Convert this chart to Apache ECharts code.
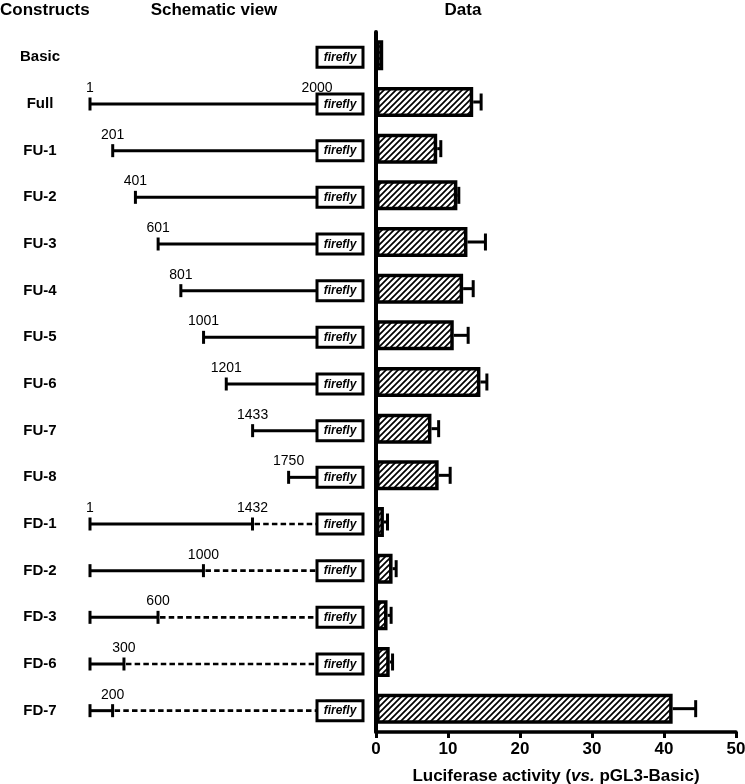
<!DOCTYPE html>
<html>
<head>
<meta charset="utf-8">
<script src="https://cdn.jsdelivr.net/npm/echarts@6/dist/echarts.min.js"></script>
<style>
html,body{margin:0;padding:0;background:#fff;}
#chart{width:745px;height:784px;}
</style>
</head>
<body>
<div id="chart"></div>
<script>
const constructs = ['Basic','Full','FU-1','FU-2','FU-3','FU-4','FU-5','FU-6','FU-7','FU-8','FD-1','FD-2','FD-3','FD-6','FD-7'];
const startPos = [null,1,201,401,601,801,1001,1201,1433,1750,1,1,1,1,1];
const endPos = [null,2000,2000,2000,2000,2000,2000,2000,2000,2000,1432,1000,600,300,200];
const startLabels = ['','1','201','401','601','801','1001','1201','1433','1750','1','','','',''];
const endLabels = ['','2000','','','','','','','','','1432','1000','600','300','200'];
const fullLength = 2000;
const reporter = 'firefly';
const activity = [1.0,13.5,8.5,11.3,12.7,12.1,10.8,14.5,7.7,8.7,1.1,2.3,1.6,1.9,41.2];
const activityErr = [0,1.1,0.5,0.2,2.5,1.4,2.0,0.9,1.0,1.6,0.5,0.5,0.5,0.4,3.2];
const xTickMax = 50;
const xTickStep = 10;

const FONT = '"Liberation Sans", Arial, Helvetica, sans-serif';

// hatch pattern
const pc = document.createElement('canvas');
pc.width = 6; pc.height = 6;
const pctx = pc.getContext('2d');
pctx.fillStyle = '#fff';
pctx.fillRect(0,0,6,6);
pctx.strokeStyle = '#000';
pctx.lineWidth = 1.7;
pctx.beginPath();
pctx.moveTo(0,6); pctx.lineTo(6,0);
pctx.moveTo(-1,1); pctx.lineTo(1,-1);
pctx.moveTo(5,7); pctx.lineTo(7,5);
pctx.stroke();

const chart = echarts.init(document.getElementById('chart'), null, {renderer:'canvas'});

function renderSchematic(params, api) {
  const i = api.value(1);
  const boxPt = api.coord([fullLength, i]);
  const y = boxPt[1];
  const boxX = boxPt[0];
  const children = [];
  const s = startPos[i], e = endPos[i];
  const lineStyle = {stroke:'#000', lineWidth:3};
  if (s != null) {
    const xs = api.coord([s, i])[0];
    const xe = api.coord([e, i])[0];
    children.push({type:'line', shape:{x1:xs, y1:y, x2:xe, y2:y}, style:lineStyle});
    children.push({type:'line', shape:{x1:xs, y1:y-6.5, x2:xs, y2:y+6.5}, style:lineStyle});
    if (e < fullLength) {
      children.push({type:'line', shape:{x1:xe, y1:y-6.5, x2:xe, y2:y+6.5}, style:lineStyle});
      children.push({type:'line', shape:{x1:xe+2, y1:y, x2:boxX, y2:y}, style:{stroke:'#000', lineWidth:2.6, lineDash:[5.5,3.2]}});
    }
    if (startLabels[i]) {
      children.push({type:'text', style:{text:startLabels[i], x:xs, y:y-9, align:'center', verticalAlign:'bottom', font:'14px ' + FONT, fill:'#000'}});
    }
    if (endLabels[i]) {
      children.push({type:'text', style:{text:endLabels[i], x:xe, y:y-9, align:'center', verticalAlign:'bottom', font:'14px ' + FONT, fill:'#000'}});
    }
  }
  children.push({type:'rect', shape:{x:boxX, y:y-10, width:46, height:20}, style:{fill:'#fff', stroke:'#000', lineWidth:3}});
  children.push({type:'text', style:{text:reporter, x:boxX+23, y:y+0.5, align:'center', verticalAlign:'middle', font:'italic bold 12px ' + FONT, fill:'#000'}});
  return {type:'group', children:children};
}

function renderErr(params, api) {
  const i = api.value(1);
  const v = api.value(0);
  const err = api.value(2);
  if (!err) return null;
  const p0 = api.coord([v, i]);
  const p1 = api.coord([v + err, i]);
  return {type:'group', children:[
    {type:'line', shape:{x1:p0[0], y1:p0[1], x2:p1[0], y2:p1[1]}, style:{stroke:'#000', lineWidth:3}},
    {type:'line', shape:{x1:p1[0], y1:p1[1]-8.5, x2:p1[0], y2:p1[1]+8.5}, style:{stroke:'#000', lineWidth:3}}
  ]};
}

const option = {
  animation:false,
  backgroundColor:'#fff',
  textStyle:{fontFamily:FONT, color:'#000'},
  graphic:[
    {type:'text', x:0, y:10, style:{text:'Constructs', align:'left', verticalAlign:'middle', font:'bold 17px ' + FONT, fill:'#000'}},
    {type:'text', x:214, y:10, style:{text:'Schematic view', align:'center', verticalAlign:'middle', font:'bold 17px ' + FONT, fill:'#000'}},
    {type:'text', x:463, y:10, style:{text:'Data', align:'center', verticalAlign:'middle', font:'bold 17px ' + FONT, fill:'#000'}}
  ],
  grid:[
    {left:90, width:227, top:34, bottom:50, containLabel:false, outerBoundsMode:'none'},
    {left:376, right:9, top:32, bottom:52, containLabel:false, outerBoundsMode:'none'}
  ],
  xAxis:[
    {gridIndex:0, type:'value', min:1, max:fullLength, show:false},
    {gridIndex:1, type:'value', min:0, max:xTickMax, interval:xTickStep,
     splitLine:{show:false},
     axisLine:{show:true, lineStyle:{color:'#000', width:3.5}},
     axisTick:{show:true, length:6, lineStyle:{color:'#000', width:3}},
     axisLabel:{color:'#000', fontSize:17, fontWeight:'bold', margin:9, fontFamily:FONT},
     name:'{b|Luciferase activity (}{i|vs.}{b| pGL3-Basic)}',
     nameLocation:'middle', nameGap:36,
     nameTextStyle:{rich:{
       b:{fontSize:17, fontWeight:'bold', color:'#000', fontFamily:FONT},
       i:{fontSize:17, fontWeight:'bold', fontStyle:'italic', color:'#000', fontFamily:FONT}
     }}
    }
  ],
  yAxis:[
    {gridIndex:0, type:'category', data:constructs, inverse:true,
     axisLine:{show:false}, axisTick:{show:false},
     axisLabel:{color:'#000', fontSize:15, fontWeight:'bold', align:'center', margin:50, fontFamily:FONT}
    },
    {gridIndex:1, type:'category', data:constructs, inverse:true,
     axisLine:{show:true, lineStyle:{color:'#000', width:4}},
     axisTick:{show:false}, axisLabel:{show:false}
    }
  ],
  series:[
    {type:'custom', xAxisIndex:0, yAxisIndex:0, renderItem:renderSchematic,
     encode:{x:0, y:1},
     data:constructs.map((c,i)=>[fullLength, i]), z:3},
    {type:'custom', xAxisIndex:1, yAxisIndex:1, renderItem:renderErr,
     encode:{x:0, y:1},
     data:activity.map((v,i)=>[v, i, activityErr[i]]), z:1},
    {type:'bar', xAxisIndex:1, yAxisIndex:1, data:activity, barWidth:30,
     itemStyle:{color:{image:pc, repeat:'repeat'}, borderColor:'#000', borderWidth:3.5}, z:2}
  ]
};
chart.setOption(option);
</script>
</body>
</html>
